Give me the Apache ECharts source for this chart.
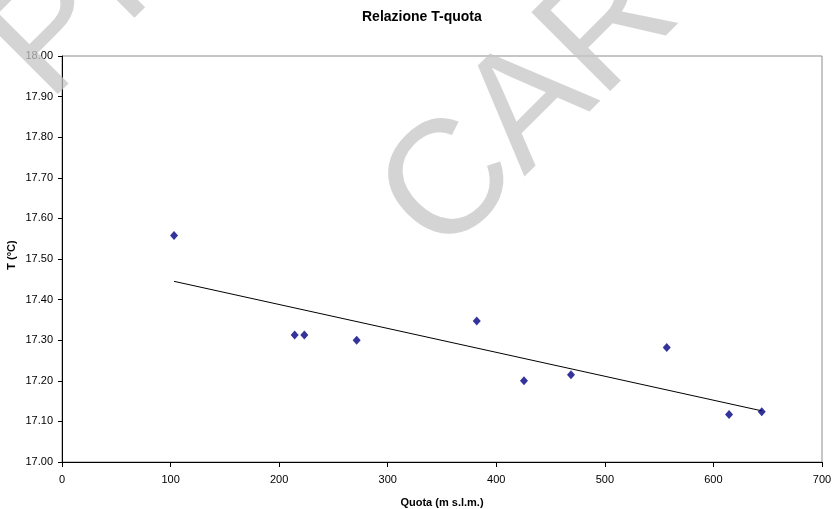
<!DOCTYPE html>
<html>
<head>
<meta charset="utf-8">
<script src="https://cdn.jsdelivr.net/npm/echarts@6/dist/echarts.min.js"></script>
<style>
  html, body { margin: 0; padding: 0; background: #ffffff; }
  #chart { width: 840px; height: 509px; }
</style>
</head>
<body>
<div id="chart"></div>
<script>
// Elevation (m a.s.l.) of each station and its mean temperature (°C)
const quota = [103.2, 214.3, 223.2, 271.4, 382.0, 425.5, 468.8, 557.0, 614.4, 644.5];
const temperatura = [17.558, 17.313, 17.313, 17.300, 17.347, 17.200, 17.215, 17.282, 17.117, 17.124];

// Linear trend line end points
const trendQuota = [103.2, 644.5];
const trendT = [17.445, 17.126];

// Axis settings
const xTicks = { min: 0, max: 700, interval: 100 };
const yTicks = { min: 17.0, max: 18.0, interval: 0.1 };

const FONT = '"Liberation Sans", Arial, sans-serif';

const chart = echarts.init(document.getElementById('chart'), null, { renderer: 'canvas' });

chart.setOption({
  backgroundColor: '#ffffff',
  animation: false,
  title: {
    text: 'Relazione T-quota',
    left: 357,
    top: 5,
    textStyle: { fontFamily: FONT, fontSize: 14, fontWeight: 'bold', color: '#000000' }
  },
  grid: {
    left: 62, right: 18, top: 56, bottom: 47,
    outerBoundsMode: 'none',
    containLabel: false,
    show: true, borderColor: '#8c8c8c', borderWidth: 1, backgroundColor: 'transparent'
  },
  xAxis: {
    type: 'value',
    min: xTicks.min, max: xTicks.max, interval: xTicks.interval,
    name: 'Quota (m s.l.m.)',
    nameLocation: 'middle',
    nameGap: 35,
    nameTextStyle: { fontFamily: FONT, fontSize: 11, fontWeight: 'bold', color: '#000000' },
    axisLine: { show: true, onZero: false, lineStyle: { color: '#000000', width: 1 } },
    axisTick: { show: true, length: 5, lineStyle: { color: '#000000' } },
    axisLabel: { fontFamily: FONT, fontSize: 11, color: '#000000', margin: 12 },
    splitLine: { show: false }
  },
  yAxis: {
    type: 'value',
    min: yTicks.min, max: yTicks.max, interval: yTicks.interval,
    axisLine: { show: true, onZero: false, lineStyle: { color: '#000000', width: 1 } },
    axisTick: { show: true, length: 4, lineStyle: { color: '#000000' } },
    axisLabel: {
      fontFamily: FONT, fontSize: 11, color: '#000000', margin: 9,
      formatter: v => v.toFixed(2)
    },
    splitLine: { show: false }
  },
  series: [
    {
      type: 'line',
      data: trendQuota.map((q, i) => [q, trendT[i]]),
      symbol: 'none',
      lineStyle: { color: '#000000', width: 1 },
      silent: true,
      z: 2
    },
    {
      type: 'scatter',
      data: quota.map((q, i) => [q, temperatura[i]]),
      symbol: 'diamond',
      symbolSize: [8, 9],
      itemStyle: { color: '#000080' },
      z: 3
    }
  ],
  graphic: [
    // vertical axis title
    {
      type: 'text', x: 12, y: 255, rotation: Math.PI / 2, z: 10, silent: true,
      style: { text: 'T (°C)', font: 'bold 11px ' + FONT, fill: '#000000', textAlign: 'center', textVerticalAlign: 'middle' }
    },
    // background watermark lettering
    {
      type: 'text', x: 17, y: 72, rotation: Math.PI / 4, z: 100, silent: true,
      style: { text: 'PR', font: '162px ' + FONT, fill: '#c6c6c6', opacity: 0.75, textAlign: 'left', textVerticalAlign: 'middle' }
    },
    {
      type: 'text', x: 410, y: 228, rotation: Math.PI / 4, z: 100, silent: true,
      style: { text: 'CAR', font: '162px ' + FONT, fill: '#c6c6c6', opacity: 0.75, textAlign: 'left', textVerticalAlign: 'middle' }
    }
  ]
});
</script>
</body>
</html>
